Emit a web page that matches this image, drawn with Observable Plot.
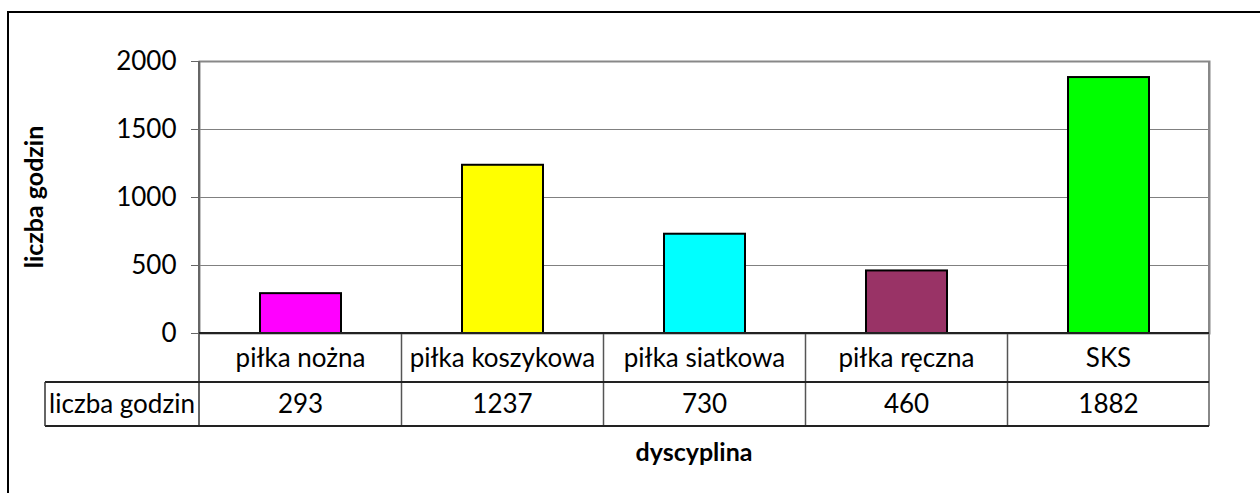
<!DOCTYPE html>
<html><head><meta charset="utf-8">
<script src="https://cdn.jsdelivr.net/npm/d3@7"></script>
<script src="https://cdn.jsdelivr.net/npm/@observablehq/plot@0.6"></script>
<style>
html,body{margin:0;padding:0;background:#fff;}
#wrap{position:relative;width:1260px;height:493px;overflow:hidden;}
</style></head><body><div id="wrap"></div>
<script>
const categories = ["piłka nożna","piłka koszykowa","piłka siatkowa","piłka ręczna","SKS"];
const values = [293,1237,730,460,1882];
const colors = ["#FF00FF","#FFFF00","#00FFFF","#993366","#00FF00"];
const yTicks = [0,500,1000,1500,2000];
const yTitle = "liczba godzin";
const xTitle = "dyscyplina";
const rowLabel = "liczba godzin";

const data = categories.map((c,i)=>({category:c, value:values[i], color:colors[i]}));
const FONT = "Lato, 'Open Sans', sans-serif";
const FS = 26;
const TFS = 25;

const plot = Plot.plot({
  width:1260, height:493,
  marginLeft:199, marginRight:51, marginTop:61, marginBottom:160,
  style:{fontFamily:FONT, fontSize:FS+"px", color:"#000", background:"#fff", overflow:"visible"},
  x:{domain:categories, paddingInner:0.6, paddingOuter:0.3, axis:null},
  y:{domain:[0,2000], axis:null},
  color:{type:"identity"},
  marks:[
    Plot.ruleY(yTicks.slice(1,-1), {stroke:"#808080", strokeWidth:1.2}),
    Plot.frame({stroke:"#888", strokeWidth:2}),
    Plot.barY(data, {x:"category", y:"value", fill:"color", stroke:"#000", strokeWidth:2}),
    Plot.axisY(yTicks, {tickSize:8, tickPadding:15, stroke:"#666", fill:"#000", fontSize:FS, tickFormat:d=>String(d), label:null})
  ]
});

const svg = d3.select(plot);
const xs = plot.scale("x"), ys = plot.scale("y");
const step = xs.apply(categories[1]) - xs.apply(categories[0]);
const bw = xs.bandwidth;
const left = xs.range[0], right = xs.range[1];
const y0 = ys.apply(0), yTop = ys.apply(2000);
const rowH1 = 49, rowH2 = 44;
const r1 = y0 + rowH1, r2 = r1 + rowH2;
const tableLeft = 45;

// outer chart border (extends beyond the picture on right and bottom)
svg.insert("rect", ":first-child").attr("x",8).attr("y",12).attr("width",1400).attr("height",700)
  .attr("fill","#fff").attr("stroke","#000").attr("stroke-width",2);

const g = svg.append("g").attr("font-family",FONT).attr("font-size",FS);
const line = (x1,y1,x2,y2,c,w)=>g.append("line").attr("x1",x1).attr("y1",y1).attr("x2",x2).attr("y2",y2).attr("stroke",c).attr("stroke-width",w);

// column boundaries
categories.forEach((c,i)=>{
  const x = xs.apply(c) + bw/2 - step/2;
  if (i>0) line(x, y0, x, r2, "#555", 1.5);
});
line(left, yTop, left, r2, "#666", 2);
line(right, yTop, right, r2, "#888", 2);
line(tableLeft, r1, right, r1, "#222", 1.8);
line(tableLeft, r2, right, r2, "#222", 1.8);
line(tableLeft, r1, tableLeft, r2, "#333", 1.5);
line(left, y0, right, y0, "#222", 2);

categories.forEach((c,i)=>{
  const cx = xs.apply(c) + bw/2;
  g.append("text").attr("x",cx).attr("y",(y0+r1)/2).attr("dy","0.35em").attr("text-anchor","middle").text(c);
  g.append("text").attr("x",cx).attr("y",(r1+r2)/2).attr("dy","0.35em").attr("text-anchor","middle").text(values[i]);
});
g.append("text").attr("x",(tableLeft+left)/2).attr("y",(r1+r2)/2).attr("dy","0.35em").attr("text-anchor","middle").text(rowLabel);

// axis titles
g.append("text").attr("transform",`translate(34,${(y0+yTop)/2}) rotate(-90)`).attr("dy","0.35em")
  .attr("text-anchor","middle").attr("font-weight","bold").attr("font-size",TFS).text(yTitle);
g.append("text").attr("x",694).attr("y",452).attr("dy","0.35em")
  .attr("text-anchor","middle").attr("font-weight","bold").attr("font-size",TFS).text(xTitle);

document.getElementById("wrap").appendChild(plot);
</script></body></html>
